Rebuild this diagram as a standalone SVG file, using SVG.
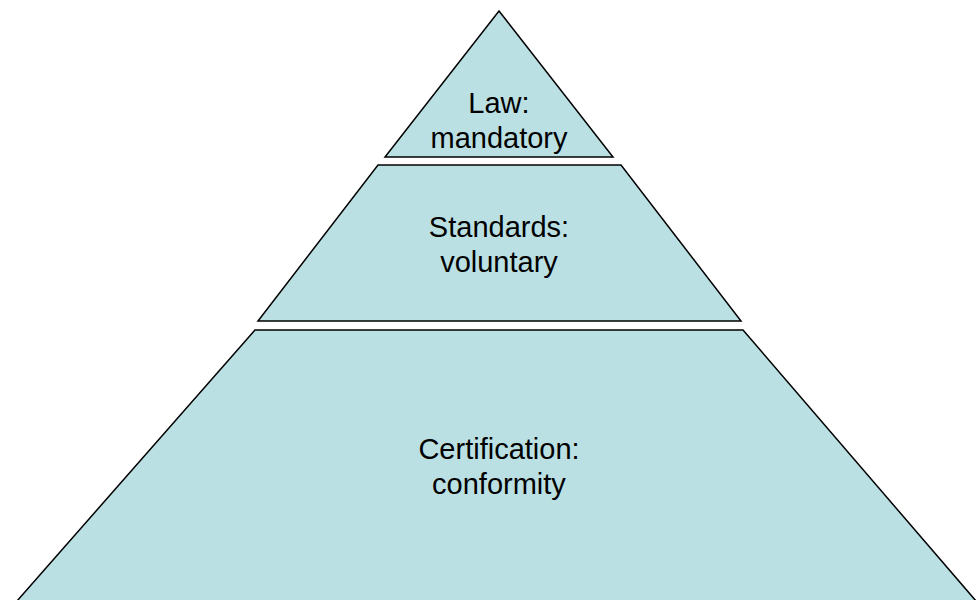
<svg xmlns="http://www.w3.org/2000/svg" width="976" height="600" viewBox="0 0 976 600">
<style>
.tier{fill:#BBE0E3;stroke:#000;stroke-width:1.5;stroke-linejoin:miter}
.lbl{font-family:"Liberation Sans",Arial,sans-serif;font-size:29px;fill:#000;text-anchor:middle}
</style>
<rect width="976" height="600" fill="#fff"/>
<g id="law">
<polygon class="tier" points="499,11 613,157 385,157"/>
<text class="lbl" x="499" y="113">Law:</text>
<text class="lbl" x="499" y="148">mandatory</text>
</g>
<g id="standards">
<polygon class="tier" points="378,165 621,165 741,321 258,321"/>
<text class="lbl" x="499" y="237">Standards:</text>
<text class="lbl" x="499" y="272">voluntary</text>
</g>
<g id="certification">
<polygon class="tier" points="255,330 743,330 976,601 17,601"/>
<text class="lbl" x="499" y="459">Certification:</text>
<text class="lbl" x="499" y="494">conformity</text>
</g>
<g id="connectors"/>
</svg>
